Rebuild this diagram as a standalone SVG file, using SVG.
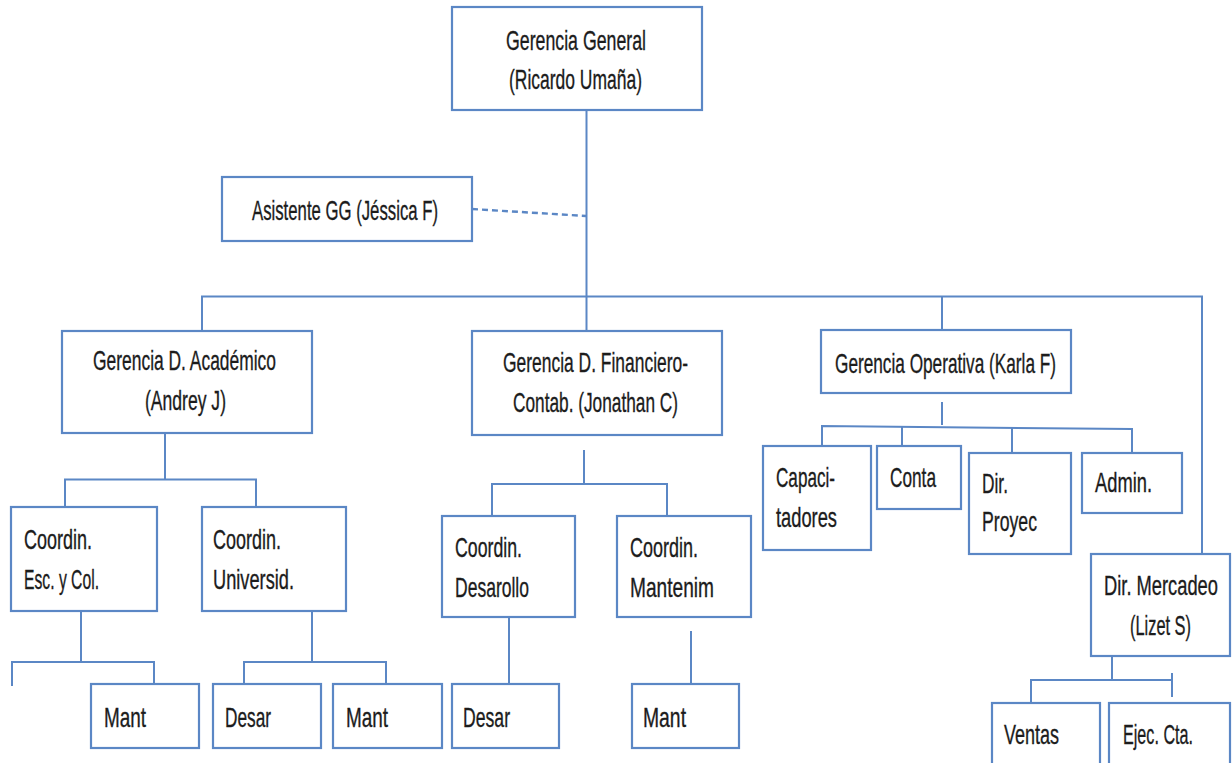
<svg xmlns="http://www.w3.org/2000/svg" width="1232" height="763" viewBox="0 0 1232 763">
  <style>
    .box { fill: #ffffff; stroke: #5b87c5; stroke-width: 2.2; }
    .lbl { font-family: "Liberation Sans", Arial, sans-serif; font-size: 28px; fill: #1c1c1c; stroke: #1c1c1c; stroke-width: 0.35; }
    .wire { fill: none; stroke: #5b87c5; stroke-width: 2; }
    .dash { fill: none; stroke: #5b87c5; stroke-width: 2.4; stroke-dasharray: 6 4; }
  </style>
  <rect x="0" y="0" width="1232" height="763" fill="#ffffff"/>

  <!-- connectors -->
  <g id="connectors">
    <path class="wire" d="M586.5,110 V331"/>
    <path class="dash" d="M472,209 L586,216"/>
    <path class="wire" d="M202,331 V296.5 H1202 V554"/>
    <path class="wire" d="M942,296.5 V330"/>
    <!-- Académico branch -->
    <path class="wire" d="M165,433 V479.5"/>
    <path class="wire" d="M65,507 V479.5 H256 V507"/>
    <path class="wire" d="M81,611 V662"/>
    <path class="wire" d="M12,686 V662 H154 V688"/>
    <path class="wire" d="M312,611 V662"/>
    <path class="wire" d="M244,685 V662 H386 V688"/>
    <!-- Financiero branch -->
    <path class="wire" d="M584,450 V484"/>
    <path class="wire" d="M492,516 V484 H667 V516"/>
    <path class="wire" d="M509,617 V690"/>
    <path class="wire" d="M691,631 V690"/>
    <!-- Operativa branch -->
    <path class="wire" d="M942,402 V425"/>
    <path class="wire" d="M822,446 V426 L1132,429 V453"/>
    <path class="wire" d="M902,426.5 V446"/>
    <path class="wire" d="M1012,428 V453"/>
    <!-- Mercadeo branch -->
    <path class="wire" d="M1112,656 V680"/>
    <path class="wire" d="M1031,707 V680 H1173"/>
    <path class="wire" d="M1172,673 V697"/>
  </g>

  <g id="gerencia-general">
    <rect class="box" x="452" y="7" width="250" height="103"/>
    <text class="lbl" x="506" y="50" textLength="140" lengthAdjust="spacingAndGlyphs">Gerencia General</text>
    <text class="lbl" x="509" y="89" textLength="133" lengthAdjust="spacingAndGlyphs">(Ricardo Umaña)</text>
  </g>

  <g id="asistente-gg">
    <rect class="box" x="222" y="177" width="250" height="64"/>
    <text class="lbl" x="252" y="220" textLength="186" lengthAdjust="spacingAndGlyphs">Asistente GG (Jéssica F)</text>
  </g>

  <g id="gerencia-academico">
    <rect class="box" x="62" y="331" width="250" height="102"/>
    <text class="lbl" x="93" y="370" textLength="183" lengthAdjust="spacingAndGlyphs">Gerencia D. Académico</text>
    <text class="lbl" x="145" y="410" textLength="81" lengthAdjust="spacingAndGlyphs">(Andrey J)</text>
  </g>

  <g id="gerencia-financiero">
    <rect class="box" x="472" y="331" width="250" height="104"/>
    <text class="lbl" x="503" y="372" textLength="185" lengthAdjust="spacingAndGlyphs">Gerencia D. Financiero-</text>
    <text class="lbl" x="513" y="412" textLength="165" lengthAdjust="spacingAndGlyphs">Contab. (Jonathan C)</text>
  </g>

  <g id="gerencia-operativa">
    <rect class="box" x="821" y="330" width="250" height="63"/>
    <text class="lbl" x="835" y="373" textLength="221" lengthAdjust="spacingAndGlyphs">Gerencia Operativa (Karla F)</text>
  </g>

  <g id="coordin-esc-col">
    <rect class="box" x="11" y="507" width="146" height="104"/>
    <text class="lbl" x="24" y="549" textLength="68" lengthAdjust="spacingAndGlyphs">Coordin.</text>
    <text class="lbl" x="24" y="589" textLength="75" lengthAdjust="spacingAndGlyphs">Esc. y Col.</text>
  </g>

  <g id="coordin-universid">
    <rect class="box" x="202" y="507" width="144" height="104"/>
    <text class="lbl" x="213" y="549" textLength="68" lengthAdjust="spacingAndGlyphs">Coordin.</text>
    <text class="lbl" x="213" y="589" textLength="81" lengthAdjust="spacingAndGlyphs">Universid.</text>
  </g>

  <g id="coordin-desarollo">
    <rect class="box" x="442" y="516" width="133" height="101"/>
    <text class="lbl" x="455" y="557" textLength="67" lengthAdjust="spacingAndGlyphs">Coordin.</text>
    <text class="lbl" x="455" y="597" textLength="74" lengthAdjust="spacingAndGlyphs">Desarollo</text>
  </g>

  <g id="coordin-mantenim">
    <rect class="box" x="617" y="516" width="134" height="101"/>
    <text class="lbl" x="630" y="557" textLength="68" lengthAdjust="spacingAndGlyphs">Coordin.</text>
    <text class="lbl" x="630" y="597" textLength="84" lengthAdjust="spacingAndGlyphs">Mantenim</text>
  </g>

  <g id="capacitadores">
    <rect class="box" x="763" y="446" width="108" height="104"/>
    <text class="lbl" x="776" y="487" textLength="59" lengthAdjust="spacingAndGlyphs">Capaci-</text>
    <text class="lbl" x="776" y="527" textLength="61" lengthAdjust="spacingAndGlyphs">tadores</text>
  </g>

  <g id="conta">
    <rect class="box" x="877" y="446" width="84" height="63"/>
    <text class="lbl" x="890" y="487" textLength="46" lengthAdjust="spacingAndGlyphs">Conta</text>
  </g>

  <g id="dir-proyec">
    <rect class="box" x="969" y="453" width="102" height="101"/>
    <text class="lbl" x="982" y="493" textLength="26" lengthAdjust="spacingAndGlyphs">Dir.</text>
    <text class="lbl" x="982" y="531" textLength="55" lengthAdjust="spacingAndGlyphs">Proyec</text>
  </g>

  <g id="admin">
    <rect class="box" x="1082" y="453" width="100" height="60"/>
    <text class="lbl" x="1095" y="492" textLength="57" lengthAdjust="spacingAndGlyphs">Admin.</text>
  </g>

  <g id="dir-mercadeo">
    <rect class="box" x="1091" y="554" width="139" height="102"/>
    <text class="lbl" x="1104" y="595" textLength="114" lengthAdjust="spacingAndGlyphs">Dir. Mercadeo</text>
    <text class="lbl" x="1130" y="635" textLength="61" lengthAdjust="spacingAndGlyphs">(Lizet S)</text>
  </g>

  <g id="mant-esc">
    <rect class="box" x="91" y="684" width="108" height="64"/>
    <text class="lbl" x="104" y="727" textLength="42" lengthAdjust="spacingAndGlyphs">Mant</text>
  </g>

  <g id="desar-univ">
    <rect class="box" x="213" y="684" width="108" height="64"/>
    <text class="lbl" x="225" y="727" textLength="46" lengthAdjust="spacingAndGlyphs">Desar</text>
  </g>

  <g id="mant-univ">
    <rect class="box" x="333" y="684" width="109" height="64"/>
    <text class="lbl" x="346" y="727" textLength="42" lengthAdjust="spacingAndGlyphs">Mant</text>
  </g>

  <g id="desar-fin">
    <rect class="box" x="452" y="684" width="107" height="64"/>
    <text class="lbl" x="463" y="727" textLength="47" lengthAdjust="spacingAndGlyphs">Desar</text>
  </g>

  <g id="mant-fin">
    <rect class="box" x="632" y="684" width="107" height="64"/>
    <text class="lbl" x="643" y="727" textLength="43" lengthAdjust="spacingAndGlyphs">Mant</text>
  </g>

  <g id="ventas">
    <rect class="box" x="992" y="703" width="108" height="70"/>
    <text class="lbl" x="1004" y="744" textLength="55" lengthAdjust="spacingAndGlyphs">Ventas</text>
  </g>

  <g id="ejec-cta">
    <rect class="box" x="1109" y="703" width="121" height="70"/>
    <text class="lbl" x="1123" y="744" textLength="70" lengthAdjust="spacingAndGlyphs">Ejec. Cta.</text>
  </g>
</svg>
